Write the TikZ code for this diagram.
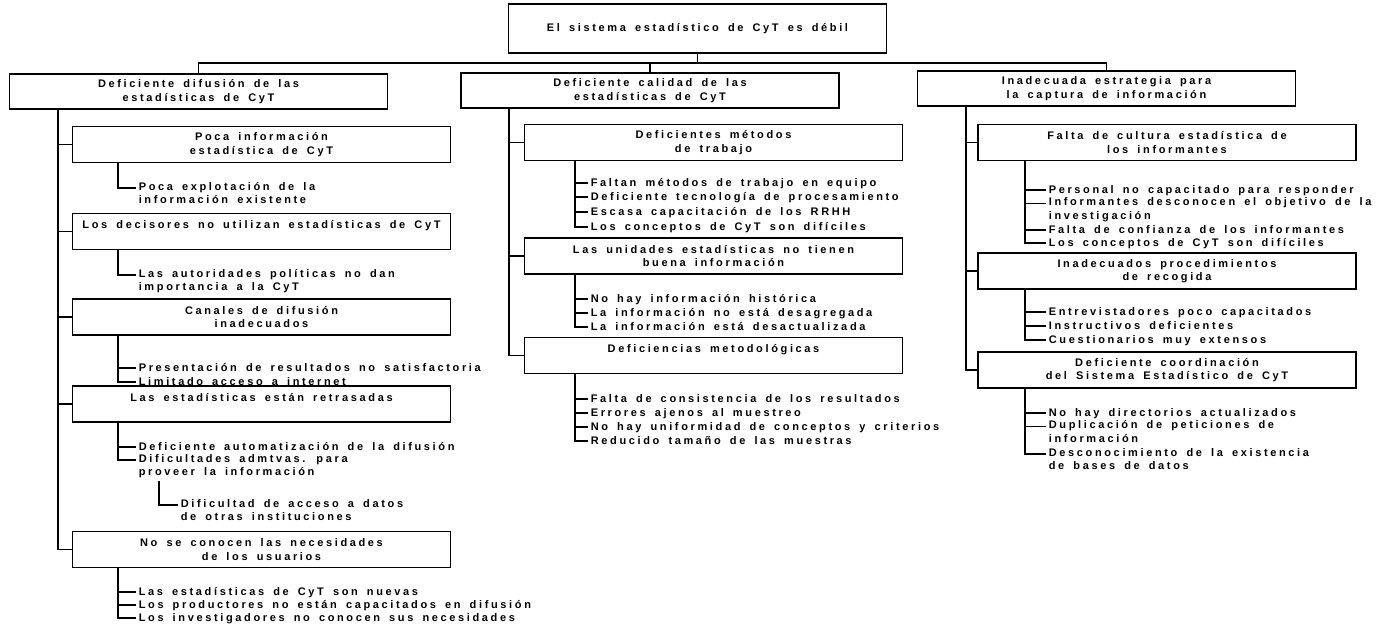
\documentclass[tikz,border=0pt]{standalone}
\usepackage{fontspec}
\setmainfont{Liberation Sans Bold}[LetterSpace=24,WordSpace=1.6]
\usepackage{tikz}

\begin{document}
\begin{tikzpicture}[x=1pt,y=-1pt,line width=1.6pt,
  font=\fontsize{11}{13.6}\selectfont,
  box/.style={draw,minimum width=378pt,minimum height=36pt,inner sep=0pt,align=center},
  item/.style={anchor=north west,inner xsep=2pt,inner ysep=0pt,align=left,execute at begin node=\strut}]
\useasboundingbox (0,0) rectangle (1388,626);
\node [box,minimum height=49pt] (z) at (697.5,28.5) {El sistema estadístico de CyT es débil};
\node [box,minimum height=35pt] (dif) at (198.5,91.5) {Deficiente difusión de las\\estadísticas de CyT};
\node [box,minimum height=35pt] (cal) at (650,90.5) {Deficiente calidad de las\\estadísticas de CyT};
\node [box,minimum height=35pt] (cap) at (1106.5,88.5) {Inadecuada estrategia para\\la captura de información};
\coordinate (bus) at (0,63);
\draw (z.south) -- (z.south |- bus);
\draw (dif.north) |- (cap.north |- bus) -- (cap.north);
\draw (cal.north) -- (cal.north |- bus);

\node [box] (l1) at (261.5,144.5) {Poca información\\estadística de CyT};
\node [box] (l2) at (261.5,231.5) {Los decisores no utilizan estadísticas de CyT\\\mbox{}};
\node [box] (l3) at (261.5,317) {Canales de difusión\\inadecuados};
\node [box] (l4) at (261.5,404) {Las estadísticas están retrasadas\\\mbox{}};
\node [box] (l5) at (261.5,549.5) {No se conocen las necesidades\\de los usuarios};
\coordinate (ls) at ([xshift=49pt]dif.south west);
\draw (ls) |- (l1.west) (ls) |- (l2.west) (ls) |- (l3.west) (ls) |- (l4.west) (ls) |- (l5.west);

\node [item] (a1) at (136,181.5) {Poca explotación de la\\información existente};
\node [item] (b1) at (136,268.5) {Las autoridades políticas no dan\\importancia a la CyT};
\node [item] (c1) at (136,361.5) {Presentación de resultados no satisfactoria};
\node [item] (c2) at (136,375.5) {Limitado acceso a internet};
\node [item] (d1) at (136,440.5) {Deficiente automatización de la difusión};
\node [item] (d2) at (136,453.5) {Dificultades admtvas. para\\proveer la información};
\node [item] (e1) at (178,498.5) {Dificultad de acceso a datos\\de otras instituciones};
\node [item] (f1) at (136,585.5) {Las estadísticas de CyT son nuevas};
\node [item] (f2) at (136,598.5) {Los productores no están capacitados en difusión};
\node [item] (f3) at (136,611.5) {Los investigadores no conocen sus necesidades};
\coordinate (sa) at ([xshift=46pt]l1.south west);
\coordinate (sb) at ([xshift=46pt]l2.south west);
\coordinate (sc) at ([xshift=46pt]l3.south west);
\coordinate (sd) at ([xshift=46pt]l4.south west);
\coordinate (se) at ([xshift=23pt]d2.south west);
\coordinate (sf) at ([xshift=46pt]l5.south west);
\draw (sa) |- ([yshift=-6.5pt]a1.north west);
\draw (sb) |- ([yshift=-6.5pt]b1.north west);
\draw (sc) |- ([yshift=-6.5pt]c1.north west) (sc) |- ([yshift=-6.5pt]c2.north west);
\draw (sd) |- ([yshift=-6.5pt]d1.north west) (sd) |- ([yshift=-6.5pt]d2.north west);
\draw (se) |- ([yshift=-6.5pt]e1.north west);
\draw (sf) |- ([yshift=-6.5pt]f1.north west) (sf) |- ([yshift=-6.5pt]f2.north west) (sf) |- ([yshift=-6.5pt]f3.north west);

\node [box] (m1) at (713.5,142.5) {Deficientes métodos\\de trabajo};
\node [box] (m2) at (713.5,256) {Las unidades estadísticas no tienen\\buena información};
\node [box] (m3) at (713.5,355.5) {Deficiencias metodológicas\\\mbox{}};
\coordinate (ms) at ([xshift=49pt]cal.south west);
\draw (ms) |- (m1.west) (ms) |- (m2.west) (ms) |- (m3.west);

\node [item] (g1) at (588,176.5) {Faltan métodos de trabajo en equipo};
\node [item] (g2) at (588,190.5) {Deficiente tecnología de procesamiento};
\node [item] (g3) at (588,205.5) {Escasa capacitación de los RRHH};
\node [item] (g4) at (588,220.5) {Los conceptos de CyT son difíciles};
\node [item] (h1) at (588,292.5) {No hay información histórica};
\node [item] (h2) at (588,306.5) {La información no está desagregada};
\node [item] (h3) at (588,320.5) {La información está desactualizada};
\node [item] (k1) at (588,392.5) {Falta de consistencia de los resultados};
\node [item] (k2) at (588,406.5) {Errores ajenos al muestreo};
\node [item] (k3) at (588,420.5) {No hay uniformidad de conceptos y criterios};
\node [item] (k4) at (588,434.5) {Reducido tamaño de las muestras};
\coordinate (sg) at ([xshift=51pt]m1.south west);
\coordinate (sh) at ([xshift=51pt]m2.south west);
\coordinate (sk) at ([xshift=51pt]m3.south west);
\draw (sg) |- ([yshift=-6.5pt]g1.north west) (sg) |- ([yshift=-6.5pt]g2.north west) (sg) |- ([yshift=-6.5pt]g3.north west) (sg) |- ([yshift=-6.5pt]g4.north west);
\draw (sh) |- ([yshift=-6.5pt]h1.north west) (sh) |- ([yshift=-6.5pt]h2.north west) (sh) |- ([yshift=-6.5pt]h3.north west);
\draw (sk) |- ([yshift=-6.5pt]k1.north west) (sk) |- ([yshift=-6.5pt]k2.north west) (sk) |- ([yshift=-6.5pt]k3.north west) (sk) |- ([yshift=-6.5pt]k4.north west);

\node [box] (r1) at (1167,142.5) {Falta de cultura estadística de\\los informantes};
\node [box] (r2) at (1167,271) {Inadecuados procedimientos\\de recogida};
\node [box] (r3) at (1167,370) {Deficiente coordinación\\del Sistema Estadístico de CyT};
\coordinate (rs) at ([xshift=49pt]cap.south west);
\draw (rs) |- (r1.west) (rs) |- (r2.west) (rs) |- (r3.west);

\node [item] (p1) at (1046,183.5) {Personal no capacitado para responder};
\node [item] (p2) at (1046,197) {Informantes desconocen el objetivo de la\\investigación};
\node [item] (p3) at (1046,223.5) {Falta de confianza de los informantes};
\node [item] (p4) at (1046,236.5) {Los conceptos de CyT son difíciles};
\node [item] (q1) at (1046,305.5) {Entrevistadores poco capacitados};
\node [item] (q2) at (1046,319.5) {Instructivos deficientes};
\node [item] (q3) at (1046,333.5) {Cuestionarios muy extensos};
\node [item] (t1) at (1046,406.5) {No hay directorios actualizados};
\node [item] (t2) at (1046,420) {Duplicación de peticiones de\\información};
\node [item] (t3) at (1046,447.5) {Desconocimiento de la existencia\\de bases de datos};
\coordinate (sp) at ([xshift=48pt]r1.south west);
\coordinate (sq) at ([xshift=48pt]r2.south west);
\coordinate (st) at ([xshift=48pt]r3.south west);
\draw (sp) |- ([yshift=-6.5pt]p1.north west) (sp) |- ([yshift=-6.5pt]p2.north west) (sp) |- ([yshift=-6.5pt]p3.north west) (sp) |- ([yshift=-6.5pt]p4.north west);
\draw (sq) |- ([yshift=-6.5pt]q1.north west) (sq) |- ([yshift=-6.5pt]q2.north west) (sq) |- ([yshift=-6.5pt]q3.north west);
\draw (st) |- ([yshift=-6.5pt]t1.north west) (st) |- ([yshift=-6.5pt]t2.north west) (st) |- ([yshift=-6.5pt]t3.north west);
\end{tikzpicture}
\end{document}
